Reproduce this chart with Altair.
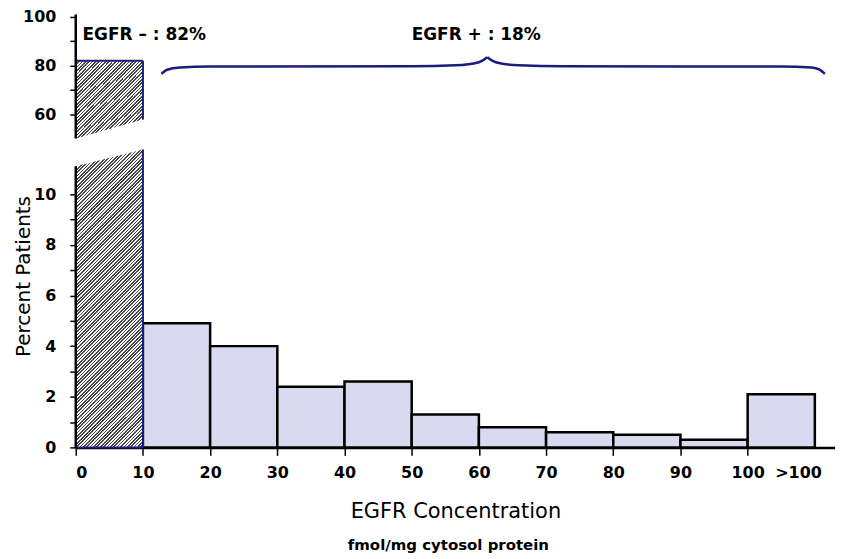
import altair as alt
import pandas as pd

# ---------------- data ----------------
bin_start = [10, 20, 30, 40, 50, 60, 70, 80, 90, 100]
bin_end = [20, 30, 40, 50, 60, 70, 80, 90, 100, 110]
pct_pos = [4.9, 4.0, 2.4, 2.6, 1.3, 0.8, 0.6, 0.5, 0.3, 2.1]

neg_start = [0, 10]
neg_pct = 82
# broken-bar geometry (value where each piece of the hatched bar is cut)
low_piece_top = [11.1, 11.77]
up_piece_bottom = [50, 57.8]

x_tick_values = [0, 10, 20, 30, 40, 50, 60, 70, 80, 90, 100, 107.5]
y_tick_values = [0, 1, 2, 3, 4, 5, 6, 7, 8, 9, 10, 60, 70, 80, 90, 100]

# axis line segments (broken y axis)
axis_seg_y = [0, 50]
axis_seg_y2 = [11.1, 101]

# curly brace over the EGFR+ bars
brace_left_x = [12.75, 13.6, 15.5, 20, 50, 56.5, 60, 61.25]
brace_left_y = [76.6, 78.3, 79.2, 79.6, 79.7, 80.1, 81.4, 83.4]
brace_right_x = [61.25, 62.5, 66, 72.5, 105, 109.5, 110.7, 111.5]
brace_right_y = [83.4, 81.4, 80.1, 79.7, 79.6, 79.2, 78.3, 76.6]

label_neg = "EGFR – : 82%"
label_pos = "EGFR + : 18%"
label_neg_x, label_pos_x, label_y = 1.0, 59.6, 92.6

# ---------------- style ----------------
W, H = 762, 432
NAVY = "#1c1c7c"
DOT = "#d9d9f0"
FONT = "DejaVu Sans"


def hatch(w, h, period=2.4, dark="#454545", light="#ffffff", frac=0.5):
    a, b = 1.0 / h, 1.0 / w
    s = (a + b) / (a * a + b * b)
    n = int(round((w + h) / 2 ** 0.5 / period))
    stops = []
    for k in range(n):
        o0 = k / n
        o1 = (k + frac) / n
        o2 = (k + 1) / n
        stops += [
            alt.GradientStop(offset=o0, color=dark),
            alt.GradientStop(offset=o1, color=dark),
            alt.GradientStop(offset=o1, color=light),
            alt.GradientStop(offset=o2, color=light),
        ]
    return alt.LinearGradient(gradient="linear", stops=stops,
                              x1=0, y1=0, x2=s * a, y2=s * b)


x_scale = alt.Scale(domain=[0, 113], nice=False, zero=False)
y_scale = alt.Scale(domain=[0, 12.2, 50, 100], range=[H, 122, 122, 0],
                    nice=False, zero=False)

x_axis = alt.Axis(
    values=x_tick_values,
    labelExpr="datum.value > 100 ? '>100' : datum.label",
    labelOverlap=False,
    tickOpacity={"condition": {"test": "datum.value > 100", "value": 0}, "value": 1},
    title="EGFR Concentration",
    grid=False, domainColor="black", domainWidth=2.5,
    tickColor="black", tickWidth=1.5, tickSize=8,
    labelPadding=9, labelFont=FONT, labelFontWeight="bold", labelFontSize=16,
    labelColor="black",
    titleFont=FONT, titleFontSize=21, titleFontWeight="normal", titleColor="black",
    titlePadding=20,
)
y_axis = alt.Axis(
    values=y_tick_values,
    labelExpr="(datum.value > 10 ? datum.value % 20 == 0 : datum.value % 2 == 0) ? datum.label : ''",
    labelOverlap=False,
    title="Percent Patients",
    grid=False, domain=False,
    tickColor="black", tickWidth=1.5, tickSize=6,
    labelPadding=14, labelFont=FONT, labelFontWeight="bold", labelFontSize=16,
    labelColor="black",
    titleFont=FONT, titleFontSize=20, titleFontWeight="normal", titleColor="black",
    titleX=-46, titleY=260, titleBaseline="alphabetic",
)


def X(f):
    return alt.X(f, type="quantitative", scale=x_scale, axis=x_axis)


def Y(f):
    return alt.Y(f, type="quantitative", scale=y_scale, axis=y_axis)


bars_df = pd.DataFrame({"start": bin_start, "end": bin_end, "pct": pct_pos,
                        "base": [0] * len(bin_start)})
bars = alt.Chart(bars_df).mark_rect(fill=DOT, stroke="black", strokeWidth=2.5).encode(
    x=X("start"), x2="end", y=Y("base"), y2="pct")

low_df = pd.DataFrame({"x": neg_start, "top": low_piece_top, "bot": [0, 0]})
low_piece = alt.Chart(low_df).mark_area(
    orient="vertical", fill=hatch(67.4, 299), strokeWidth=0).encode(
    x=X("x"), y=Y("top"), y2="bot")

up_df = pd.DataFrame({"x": neg_start, "top": [neg_pct, neg_pct], "bot": up_piece_bottom})
up_piece = alt.Chart(up_df).mark_area(
    orient="vertical", fill=hatch(67.4, 77), strokeWidth=0).encode(
    x=X("x"), y=Y("top"), y2="bot")

edge_df = pd.DataFrame({
    "x": [neg_start[1], neg_start[1], neg_start[0], neg_start[0]],
    "x2": [neg_start[1], neg_start[1], neg_start[1], neg_start[1]],
    "y": [0, up_piece_bottom[1], neg_pct, 0],
    "y2": [low_piece_top[1], neg_pct, neg_pct, 0],
})
edges = alt.Chart(edge_df).mark_rule(color=NAVY, strokeWidth=2).encode(
    x=X("x"), x2="x2", y=Y("y"), y2="y2")

axis_df = pd.DataFrame({"x": [0, 0], "y": axis_seg_y, "y2": axis_seg_y2})
axis_line = alt.Chart(axis_df).mark_rule(color="black", strokeWidth=2.5).encode(
    x=X("x"), y=Y("y"), y2="y2")

brace_df = pd.DataFrame({
    "x": brace_left_x + brace_right_x,
    "y": brace_left_y + brace_right_y,
    "side": ["l"] * len(brace_left_x) + ["r"] * len(brace_right_x),
})
brace = alt.Chart(brace_df).mark_line(color=NAVY, strokeWidth=2.5,
                                      interpolate="monotone").encode(
    x=X("x"), y=Y("y"), detail="side:N")

tneg = alt.Chart(pd.DataFrame({"x": [label_neg_x], "y": [label_y], "t": [label_neg]})).mark_text(
    align="left", baseline="middle", font=FONT, fontSize=17, fontWeight="bold", color="black"
).encode(x=X("x"), y=Y("y"), text="t:N")
tpos = alt.Chart(pd.DataFrame({"x": [label_pos_x], "y": [label_y], "t": [label_pos]})).mark_text(
    align="center", baseline="middle", font=FONT, fontSize=17, fontWeight="bold", color="black"
).encode(x=X("x"), y=Y("y"), text="t:N")

chart = alt.layer(bars, low_piece, up_piece, edges, axis_line, brace, tneg, tpos).properties(
    width=W, height=H,
    padding={"left": 6, "top": 0, "right": 0, "bottom": 0},
    background="white",
    title=alt.TitleParams(text="fmol/mg cytosol protein", orient="bottom", anchor="middle",
                          frame="group", font=FONT, fontSize=15, fontWeight="bold",
                          color="black", offset=17, dx=-7),
).configure_view(stroke=None)

chart.save("out.html", embed_options={"renderer": "svg", "actions": False})
